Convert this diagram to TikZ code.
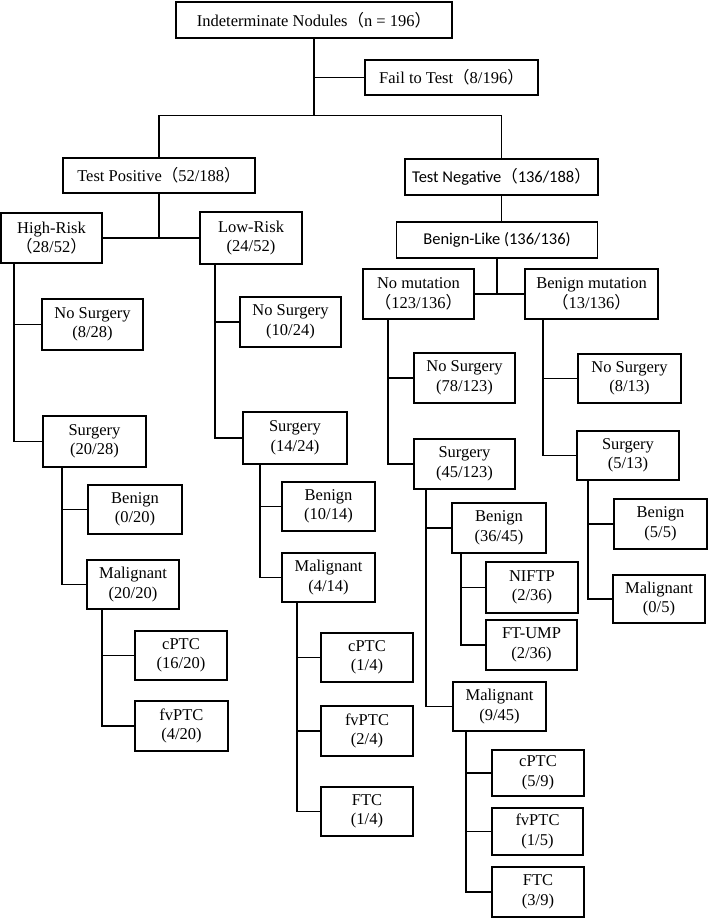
\documentclass[tikz,border=0pt]{standalone}
\usepackage{fontspec}
\setmainfont{Liberation Serif}
\newfontfamily\calib{Carlito}
\newfontfamily\cjk{Noto Sans CJK SC}
\newcommand{\flp}{{\cjk （}}
\newcommand{\frp}{{\cjk ）}}
\begin{document}
\begin{tikzpicture}[x=1pt, y=-1pt, line width=1.3pt, every node/.style={font=\fontsize{16.5}{19.5}\selectfont}]
  \tikzstyle{bx}=[draw, inner sep=0pt, align=center, minimum width=92, minimum height=49]
  \tikzstyle{sans}=[font=\calib\fontsize{16.5}{19.5}\selectfont]
  \useasboundingbox (0,0) rectangle (709,918);
  \node[bx,minimum width=276,minimum height=36] (ind) at (314,20) {Indeterminate Nodules\flp n = 196\frp};
  \node[bx,minimum width=173,minimum height=35] (fail) at (451.5,77.5) {Fail to Test\flp 8/196\frp};
  \node[bx,minimum width=192,minimum height=35] (tpos) at (159,175.5) {Test Positive\flp 52/188\frp};
  \node[bx,sans,minimum width=193,minimum height=36] (tneg) at (501.5,177) {Test Negative\flp 136/188\frp};
  \node[bx,minimum width=101,minimum height=50] (high) at (51.5,238) {High-Risk\\\flp 28/52\frp};
  \node[bx,minimum width=102,minimum height=52] (low) at (251,238) {Low-Risk\\(24/52)};
  \node[bx,sans,minimum width=201,minimum height=36] (blike) at (497,240) {Benign-Like (136/136)};
  \node[bx,minimum width=111,minimum height=50] (nomut) at (418.5,294) {No mutation\\\flp 123/136\frp};
  \node[bx,minimum width=133,minimum height=50] (bmut) at (591.5,294) {Benign mutation\\\flp 13/136\frp};
  % high-risk
  \node[bx,minimum width=101,minimum height=51] (h_ns) at (92.5,324.5) {No Surgery\\(8/28)};
  \node[bx,minimum width=103,minimum height=51] (h_s) at (94.5,441.5) {Surgery\\(20/28)};
  \node[bx,minimum width=94] (h_ben) at (135,509.5) {Benign\\(0/20)};
  \node[bx] (h_mal) at (133,584.5) {Malignant\\(20/20)};
  \node[bx] (h_cptc) at (181,655.5) {cPTC\\(16/20)};
  \node[bx,minimum width=93,minimum height=50] (h_fv) at (181.5,726) {fvPTC\\(4/20)};
  % low-risk
  \node[bx,minimum width=101,minimum height=50] (l_ns) at (290.5,322) {No Surgery\\(10/24)};
  \node[bx,minimum width=104,minimum height=52] (l_s) at (295,438) {Surgery\\(14/24)};
  \node[bx,minimum width=93] (l_ben) at (328.5,506.5) {Benign\\(10/14)};
  \node[bx,minimum width=93] (l_mal) at (328.5,577.5) {Malignant\\(4/14)};
  \node[bx] (l_cptc) at (367,657.5) {cPTC\\(1/4)};
  \node[bx,minimum height=50] (l_fv) at (367,731) {fvPTC\\(2/4)};
  \node[bx] (l_ftc) at (367,811.5) {FTC\\(1/4)};
  % no mutation
  \node[bx,minimum width=101,minimum height=50] (n_ns) at (464.5,378) {No Surgery\\(78/123)};
  \node[bx,minimum width=101,minimum height=50] (n_s) at (464.5,464) {Surgery\\(45/123)};
  \node[bx,minimum width=94,minimum height=50] (n_ben) at (499,528) {Benign\\(36/45)};
  \node[bx,minimum height=51] (n_nif) at (532,587.5) {NIFTP\\(2/36)};
  \node[bx,minimum width=91,minimum height=50] (n_ftu) at (531.5,645) {FT-UMP\\(2/36)};
  \node[bx,minimum width=93] (n_mal) at (499.5,706.5) {Malignant\\(9/45)};
  \node[bx,minimum height=46] (n_cptc) at (538,773) {cPTC\\(5/9)};
  \node[bx,minimum width=91,minimum height=47] (n_fv) at (537.5,831.5) {fvPTC\\(1/5)};
  \node[bx,minimum height=50] (n_ftc) at (538,892) {FTC\\(3/9)};
  % benign mutation
  \node[bx,minimum width=103] (b_ns) at (629.5,378.5) {No Surgery\\(8/13)};
  \node[bx,minimum width=102] (b_s) at (628,455.5) {Surgery\\(5/13)};
  \node[bx,minimum width=93,minimum height=50] (b_ben) at (660.5,524) {Benign\\(5/5)};
  \node[bx,minimum height=48] (b_mal) at (659,599) {Malignant\\(0/5)};
  % connectors
  \draw (ind.south) -- ++(0,77) coordinate (sp);
  \draw (ind.south |- fail.west) -- (fail.west);
  \draw (tpos.north) |- (sp) -| (tneg.north);
  \draw (tpos.south) -- (tpos.south |- high.east);
  \draw (high.east) -- (low.west);
  \draw (tneg.south) -- (tneg.south |- blike.north);
  \draw (blike.south) -- (blike.south |- nomut.east);
  \draw (nomut.east) -- (bmut.west);
  \foreach \c in {h_ns,h_s} \draw ([xshift=-37.5]high.south) |- (\c.west);
  \foreach \c in {h_ben,h_mal} \draw ([xshift=-32.5]h_s.south) |- (\c.west);
  \foreach \c in {h_cptc,h_fv} \draw ([xshift=-31]h_mal.south) |- (\c.west);
  \foreach \c in {l_ns,l_s} \draw ([xshift=-36]low.south) |- (\c.west);
  \foreach \c in {l_ben,l_mal} \draw ([xshift=-35]l_s.south) |- (\c.west);
  \foreach \c in {l_cptc,l_fv,l_ftc} \draw ([xshift=-31.5]l_mal.south) |- (\c.west);
  \foreach \c in {n_ns,n_s} \draw ([xshift=-30.5]nomut.south) |- (\c.west);
  \foreach \c in {n_ben,n_mal} \draw ([xshift=-38.5]n_s.south) |- (\c.west);
  \foreach \c in {n_nif,n_ftu} \draw ([xshift=-38]n_ben.south) |- (\c.west);
  \foreach \c in {n_cptc,n_fv,n_ftc} \draw ([xshift=-33.5]n_mal.south) |- (\c.west);
  \foreach \c in {b_ns,b_s} \draw ([xshift=-48.5]bmut.south) |- (\c.west);
  \foreach \c in {b_ben,b_mal} \draw ([xshift=-40]b_s.south) |- (\c.west);
\end{tikzpicture}
\end{document}
